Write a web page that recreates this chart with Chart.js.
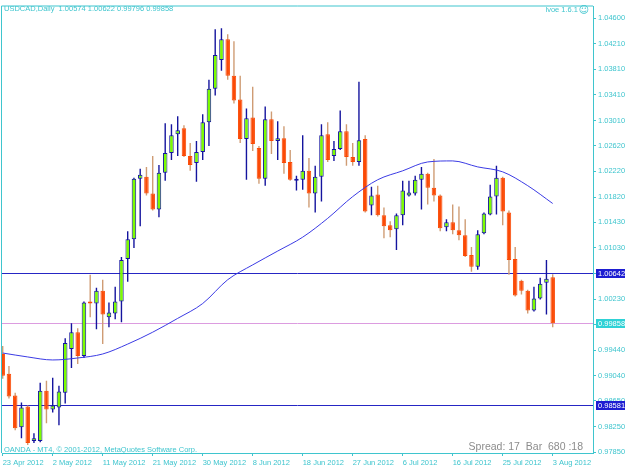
<!DOCTYPE html>
<html>
<head>
<meta charset="utf-8">
<title>USDCAD Daily</title>
<script src="https://cdn.jsdelivr.net/npm/chart.js@4.4.1/dist/chart.umd.min.js"></script>
<style>
  html, body { margin: 0; padding: 0; background: #fff; }
  canvas { display: block; }
</style>
</head>
<body>
<canvas id="usdcad" width="625" height="469"></canvas>
<script>
// USDCAD daily, 23 Apr 2012 .. 3 Aug 2012 (OANDA feed, Sunday bars included)
const opens = [
  0.99380, 0.99072, 0.98733, 0.98240, 0.98564, 0.98025, 0.98025, 0.98810, 0.98517, 0.98548,
  0.98779, 0.99457, 0.99719, 0.99349, 1.00196, 1.00165, 1.00365, 0.99950, 1.00011, 1.00196,
  1.00858, 1.01166, 1.02106, 1.02136, 1.01875, 1.01628, 1.02198, 1.02506, 1.02799, 1.02891,
  1.02460, 1.02352, 1.02521, 1.02983, 1.03507, 1.03954, 1.04277, 1.03707, 1.03338, 1.02722,
  1.03060, 1.02583, 1.02106, 1.03030, 1.02691, 1.02737, 1.02367, 1.02075, 1.02090, 1.02229,
  1.01875, 1.02136, 1.02799, 1.02460, 1.02568, 1.02845, 1.02444, 1.02367, 1.02722, 1.01690,
  1.01859, 1.01536, 1.01382, 1.01320, 1.01536, 1.01844, 1.01875, 1.02090, 1.02183, 1.01967,
  1.01844, 1.01351, 1.01428, 1.01305, 1.01228, 1.00920, 1.00735, 1.01259, 1.01551, 1.01828,
  1.02121, 1.01582, 1.00858, 1.00519, 1.00365, 1.00057, 1.00242, 1.00489, 1.00574
];
const highs = [
  0.99503, 0.99195, 0.98779, 0.98625, 0.98579, 0.98148, 0.98933, 0.98964, 0.99010, 0.98887,
  0.99626, 0.99857, 0.99780, 1.00196, 1.00612, 1.00412, 1.00535, 1.00181, 1.00427, 1.00889,
  1.01289, 1.02121, 1.02260, 1.02290, 1.02460, 1.02321, 1.02968, 1.02953, 1.03076, 1.02937,
  1.02660, 1.02691, 1.03107, 1.03646, 1.04431, 1.04446, 1.04354, 1.04246, 1.03707, 1.03199,
  1.03538, 1.02614, 1.03230, 1.03153, 1.02999, 1.02922, 1.02552, 1.02152, 1.02783, 1.02429,
  1.02306, 1.02953, 1.02983, 1.02691, 1.03168, 1.02953, 1.02660, 1.03615, 1.02783, 1.01982,
  1.01998, 1.01659, 1.01443, 1.01567, 1.02075, 1.02075, 1.02152, 1.02290, 1.02198, 1.02414,
  1.01859, 1.01474, 1.01705, 1.01674, 1.01474, 1.01043, 1.01305, 1.01582, 1.02013, 1.02306,
  1.02136, 1.01613, 1.01043, 1.00535, 1.00381, 1.00427, 1.00566, 1.00843, 1.00622
];
const lows = [
  0.98995, 0.98687, 0.98194, 0.98071, 0.97963, 0.97994, 0.98009, 0.98302, 0.98471, 0.98271,
  0.98610, 0.99164, 0.99226, 0.99318, 0.99950, 0.99765, 0.99534, 0.99796, 0.99919, 0.99873,
  1.00504, 1.01028, 1.01366, 1.01844, 1.01613, 1.01505, 1.02075, 1.02398, 1.02460, 1.02444,
  1.02229, 1.02059, 1.02398, 1.02614, 1.03399, 1.03784, 1.03646, 1.03276, 1.02660, 1.02090,
  1.02537, 1.02029, 1.01998, 1.02491, 1.02398, 1.02183, 1.02075, 1.01921, 1.01936, 1.01659,
  1.01582, 1.01751, 1.02367, 1.02383, 1.02552, 1.02306, 1.02306, 1.02306, 1.01582, 1.01536,
  1.01520, 1.01182, 1.01197, 1.00997, 1.01382, 1.01828, 1.01844, 1.01628, 1.01705, 1.01751,
  1.01289, 1.01289, 1.01243, 1.01151, 1.00889, 1.00658, 1.00689, 1.01243, 1.01536, 1.01551,
  1.01382, 1.00612, 1.00273, 1.00304, 1.00011, 1.00042, 1.00227, 0.99996, 0.99796
];
const closes = [
  0.99041, 0.98718, 0.98225, 0.98548, 0.97994, 0.98071, 0.98810, 0.98517, 0.98579, 0.98795,
  0.99549, 0.99719, 0.99349, 1.00181, 1.00165, 1.00365, 0.99996, 1.00027, 1.00196, 1.00843,
  1.01166, 1.02106, 1.02167, 1.01875, 1.01628, 1.02198, 1.02506, 1.02783, 1.02860, 1.02460,
  1.02321, 1.02521, 1.02983, 1.03507, 1.04031, 1.04277, 1.03707, 1.03322, 1.02722, 1.03045,
  1.02645, 1.02106, 1.03030, 1.02691, 1.02737, 1.02352, 1.02090, 1.02090, 1.02229, 1.01875,
  1.02136, 1.02783, 1.02398, 1.02568, 1.02845, 1.02444, 1.02367, 1.02706, 1.01597, 1.01844,
  1.01536, 1.01366, 1.01305, 1.01536, 1.01921, 1.01890, 1.02090, 1.02183, 1.01967, 1.01844,
  1.01336, 1.01428, 1.01305, 1.01228, 1.00904, 1.00735, 1.01243, 1.01567, 1.01828, 1.02121,
  1.01597, 1.00843, 1.00288, 1.00365, 1.00057, 1.00242, 1.00473, 1.00550, 0.99858
];

// moving average, read every 4th bar
const maIdx  = [0, 4, 8, 12, 16, 20, 24, 28, 32, 36, 40, 44, 48, 52, 56, 60, 64, 68, 72, 76, 80, 84, 88];
const maVals = [0.99395, 0.99334, 0.99287, 0.99318, 0.99380, 0.99534, 0.99719, 0.99934, 1.00165, 1.00535,
                1.00766, 1.00981, 1.01197, 1.01490, 1.01828, 1.02090, 1.02229, 1.02367, 1.02383, 1.02290,
                1.02213, 1.01998, 1.01721];

// axis labels
const dateTickIdx = [0, 8, 16, 24, 32, 40, 48, 56, 64, 72, 80, 88];
const dateTickLabels = ['23 Apr 2012', '2 May 2012', '11 May 2012', '21 May 2012', '30 May 2012', '8 Jun 2012',
                        '18 Jun 2012', '27 Jun 2012', '6 Jul 2012', '16 Jul 2012', '25 Jul 2012', '3 Aug 2012'];
const priceTicks = [1.0460, 1.0421, 1.0381, 1.0341, 1.0301, 1.0262, 1.0222, 1.0182, 1.0143,
                    1.0103, 1.0063, 1.0023, 0.9984, 0.9944, 0.9904, 0.9865, 0.9825, 0.9785];

// horizontal lines
const levelLines = [1.00642, 0.98581];
const bidPrice = 0.99858;

const AQUA = '#3fc5ce';
const FONT = '"Liberation Sans", Arial, "DejaVu Sans", sans-serif';
const BULL_BODY = '#7cfc00', BULL_EDGE = '#14149e';
const BEAR_BODY = '#fb4a06', BEAR_WICK = '#cf9c74';

const isBull = i => closes[i] >= opens[i];
const last = closes.length - 1;

const mt4Plugin = {
  id: 'mt4Plugin',
  beforeDraw(chart) {
    const ctx = chart.ctx;
    ctx.save();
    ctx.fillStyle = '#ffffff';
    ctx.fillRect(0, 0, chart.width, chart.height);
    ctx.restore();
  },
  beforeDatasetsDraw(chart) {
    const {ctx, chartArea: a, scales: {y}} = chart;
    ctx.save();
    ctx.lineWidth = 1;
    const drawLevel = (v, col) => {
      const py = Math.round(y.getPixelForValue(v)) + 0.5;
      ctx.strokeStyle = col;
      ctx.beginPath();
      ctx.moveTo(a.left, py);
      ctx.lineTo(a.right, py);
      ctx.stroke();
    };
    levelLines.forEach(v => drawLevel(v, '#2626c4'));
    drawLevel(bidPrice, '#dc9ce0');
    ctx.restore();
  },
  afterDraw(chart) {
    const {ctx, chartArea: a, scales: {y}} = chart;
    ctx.save();
    // frame (top / left)
    ctx.strokeStyle = AQUA;
    ctx.lineWidth = 1;
    ctx.beginPath();
    ctx.moveTo(a.left - 0.5, a.bottom);
    ctx.lineTo(a.left - 0.5, a.top - 0.5);
    ctx.lineTo(a.right, a.top - 0.5);
    ctx.stroke();

    // price boxes on the axis
    const box = (v, col) => {
      const py = y.getPixelForValue(v);
      ctx.fillStyle = col;
      ctx.fillRect(a.right + 3, Math.round(py) - 4, 32, 9);
      ctx.fillStyle = '#ffffff';
      ctx.font = '7.5px ' + FONT;
      ctx.textBaseline = 'middle';
      ctx.textAlign = 'left';
      ctx.fillText(v.toFixed(5), a.right + 5, Math.round(py) + 0.5);
    };
    levelLines.forEach(v => box(v, '#1e1ed2'));
    box(bidPrice, '#2fd2d6');

    // texts
    ctx.fillStyle = AQUA;
    ctx.font = '7.5px ' + FONT;
    ctx.textBaseline = 'middle';
    ctx.textAlign = 'left';
    ctx.fillText('USDCAD,Daily  ' + [opens[last], highs[last], lows[last], closes[last]].map(v => v.toFixed(5)).join(' '), 4, 8.5);
    ctx.fillText('OANDA - MT4, \u00a9 2001-2012, MetaQuotes Software Corp.', 4, 449.5);
    ctx.textAlign = 'right';
    ctx.fillText('lvoe 1.6.1', 578, 10);
    ctx.font = '10px "DejaVu Sans", sans-serif';
    ctx.fillText('\u263a', 589, 10);

    ctx.fillStyle = '#8c8c8c';
    ctx.font = '10.5px ' + FONT;
    ctx.fillText('Spread: 17  Bar  680 :18', 583, 447);
    ctx.restore();
  }
};

new Chart(document.getElementById('usdcad'), {
  data: {
    labels: opens.map((_, i) => i),
    datasets: [
      {
        type: 'line',
        label: 'MA',
        data: maIdx.map((d, k) => ({x: d, y: maVals[k]})),
        borderColor: '#3b3be4',
        borderWidth: 1,
        pointRadius: 0,
        cubicInterpolationMode: 'monotone',
        order: 0
      },
      {
        type: 'bar',
        label: 'body',
        data: opens.map((o, i) => [o, closes[i]]),
        backgroundColor: opens.map((_, i) => isBull(i) ? BULL_BODY : BEAR_BODY),
        borderColor: opens.map((_, i) => isBull(i) ? BULL_EDGE : BEAR_BODY),
        borderWidth: 1,
        borderSkipped: false,
        barThickness: 4.5,
        minBarLength: 2,
        inflateAmount: 0,
        grouped: false,
        order: 1
      },
      {
        type: 'bar',
        label: 'wick',
        data: lows.map((l, i) => [l, highs[i]]),
        backgroundColor: opens.map((_, i) => isBull(i) ? BULL_EDGE : BEAR_WICK),
        borderWidth: 0,
        barThickness: 1.4,
        inflateAmount: 0,
        grouped: false,
        order: 2
      }
    ]
  },
  options: {
    responsive: false,
    animation: false,
    layout: { padding: { left: 2, top: 2, right: 0, bottom: 0 } },
    plugins: { legend: { display: false }, tooltip: { enabled: false } },
    scales: {
      x: {
        type: 'linear',
        position: 'bottom',
        offset: false,
        min: -0.112,
        max: 94.448,
        afterFit: s => { s.height = 16; },
        afterBuildTicks: s => { s.ticks = dateTickIdx.map(v => ({value: v})); },
        grid: { offset: false, drawOnChartArea: false, drawTicks: true, tickLength: 3, color: AQUA },
        border: { display: true, color: AQUA },
        ticks: {
          autoSkip: false,
          maxRotation: 0,
          align: 'start',
          padding: 2,
          color: AQUA,
          font: { family: FONT, size: 7.5 },
          callback: v => dateTickLabels[dateTickIdx.indexOf(v)]
        }
      },
      y: {
        type: 'linear',
        position: 'right',
        min: 0.9784,
        max: 1.047848,
        afterFit: s => { s.width = 32; },
        afterBuildTicks: s => { s.ticks = priceTicks.map(v => ({value: v})); },
        grid: { drawOnChartArea: false, drawTicks: true, tickLength: 3, color: AQUA },
        border: { display: true, color: AQUA },
        ticks: {
          autoSkip: false,
          padding: 2,
          color: AQUA,
          font: { family: FONT, size: 7.5 },
          callback: v => v.toFixed(5)
        }
      }
    }
  },
  plugins: [mt4Plugin]
});
</script>
</body>
</html>
